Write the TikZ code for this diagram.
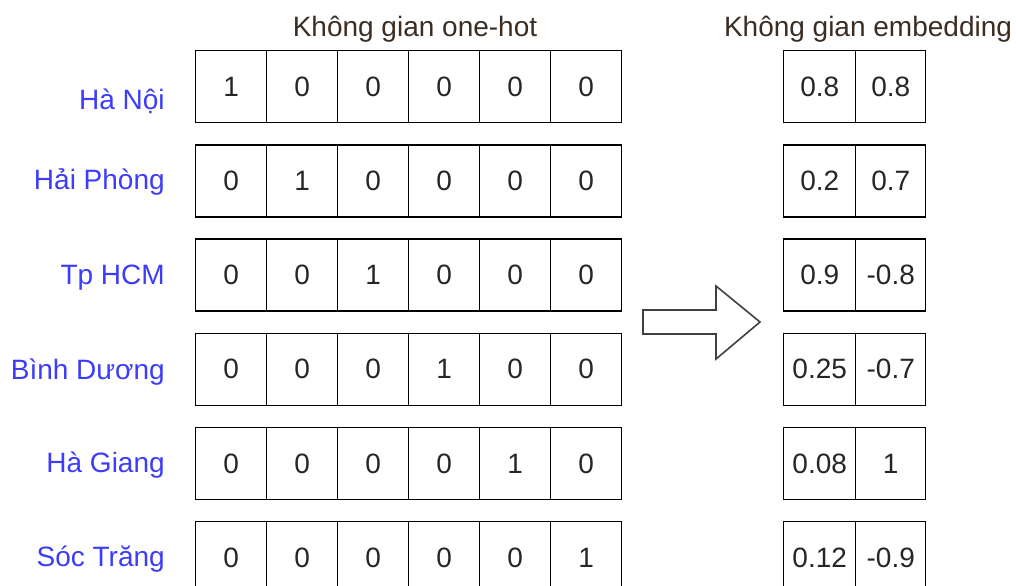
\documentclass[tikz,border=0pt]{standalone}
\usepackage{fontspec}
\setmainfont{Liberation Sans}
\begin{document}
\begin{tikzpicture}[x=0.75pt,y=-0.75pt,
  txt/.style={font=\fontsize{21}{25}\selectfont},
  cell/.style={draw=black,line width=1.1pt,minimum width=53.25pt,minimum height=54pt,
    inner sep=0pt,anchor=north west,txt,text=black!85},
  city/.style={txt,text=citycol,anchor=base east,inner sep=0pt},
  title/.style={txt,text=titlecol,inner sep=0pt,anchor=base}]
\definecolor{citycol}{RGB}{60,60,250}
\definecolor{titlecol}{RGB}{60,45,35}
\useasboundingbox (0,0) rectangle (1016,585);
% column headers
\node[title] (h1) at (415,37) {Không gian one-hot};
\node[title] (h2) at (868,37) {Không gian embedding};
% rows: city label, one-hot vector, embedding vector
\foreach \name/\ea/\eb/\dy [count=\r from 1] in
  {Hà Nội/0.8/0.8/23, Hải Phòng/0.2/0.7/9, Tp HCM/0.9/-0.8/10,
   Bình Dương/0.25/-0.7/11, Hà Giang/0.08/1/10, Sóc Trăng/0.12/-0.9/9}{
  \pgfmathsetmacro{\ytop}{50+94.2*(\r-1)}
  \node[city] (l\r) at (165,\ytop+36+\dy) {\name};
  \foreach \k in {1,...,6}{
    \pgfmathtruncatemacro{\v}{\k==\r ? 1 : 0}
    \node[cell] (o\r-\k) at ({195+71*(\k-1)},\ytop) {\v};
  }
  \node[cell,minimum width=54pt] (e\r-1) at (783,\ytop) {\ea};
  \node[cell,minimum width=52.5pt] (e\r-2) at (855,\ytop) {\eb};
}
% mapping arrow
\draw[line width=1.2pt,draw=black!75,line join=miter]
  (643,310) -- (716,310) -- (716,286) -- (760,322) -- (716,359) -- (716,334) -- (643,334) -- cycle;
\end{tikzpicture}
\end{document}
